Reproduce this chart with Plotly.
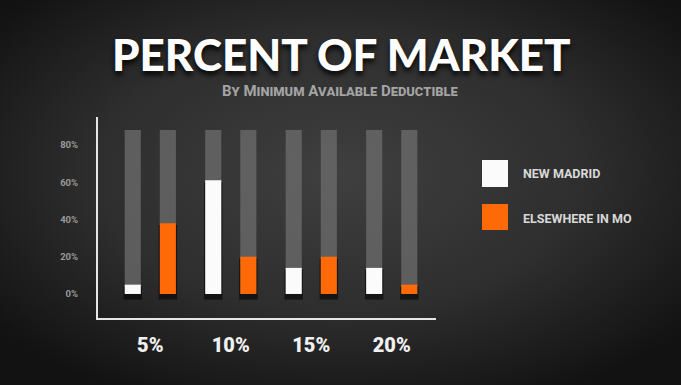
import plotly.graph_objects as go
import urllib.parse

# --- data -------------------------------------------------------------
deductibles = ["5%", "10%", "15%", "20%"]
new_madrid = [5, 61, 14, 14]
elsewhere_mo = [38, 20, 20, 5]
track_max = [88, 88, 88, 88]          # full-height grey track behind each bar
y_ticks = [0, 20, 40, 60, 80]
y_tick_text = ["0%", "20%", "40%", "60%", "80%"]

W, H = 681, 385
WHITE = "#fbfbfb"
ORANGE = "#ff6a08"
TRACK = "rgba(110,110,110,0.75)"

BAR_W = 0.2
OFFSETS = {"nm": -0.318, "mo": 0.118}

fig = go.Figure()

# grey tracks
for key in ("nm", "mo"):
    fig.add_trace(go.Bar(
        x=deductibles, y=track_max, width=BAR_W, offset=OFFSETS[key],
        marker=dict(color=TRACK, line=dict(width=0)),
        showlegend=False, hoverinfo="skip",
    ))

# soft drop shadows under the value bars
for key, vals in (("nm", new_madrid), ("mo", elsewhere_mo)):
    fig.add_trace(go.Bar(
        x=deductibles, y=[v + 2 for v in vals], base=-3, width=BAR_W + 0.03,
        offset=OFFSETS[key] - 0.015,
        marker=dict(color="rgba(0,0,0,0.55)", line=dict(width=0)),
        showlegend=False, hoverinfo="skip",
    ))

fig.add_trace(go.Bar(
    x=deductibles, y=new_madrid, width=BAR_W, offset=OFFSETS["nm"],
    marker=dict(color=WHITE, line=dict(width=0)), name="NEW MADRID",
))
fig.add_trace(go.Bar(
    x=deductibles, y=elsewhere_mo, width=BAR_W, offset=OFFSETS["mo"],
    marker=dict(color=ORANGE, line=dict(width=0)), name="ELSEWHERE IN MO",
))

# radial vignette background
svg = (
    "<svg xmlns='http://www.w3.org/2000/svg' width='681' height='385'>"
    "<defs><radialGradient id='g' cx='50%' cy='45%' r='65%'>"
    "<stop offset='0%' stop-color='#3f3f3f'/>"
    "<stop offset='55%' stop-color='#2e2e2e'/>"
    "<stop offset='100%' stop-color='#121212'/>"
    "</radialGradient></defs>"
    "<rect width='681' height='385' fill='url(#g)'/></svg>"
)
bg_uri = "data:image/svg+xml;charset=utf-8," + urllib.parse.quote(svg)


def px(x):
    return x / W


def py(y):
    return 1 - y / H


shapes = [
    dict(type="rect", xref="paper", yref="paper",
         x0=px(482), x1=px(508), y0=py(187), y1=py(160),
         fillcolor=WHITE, line=dict(width=0)),
    dict(type="rect", xref="paper", yref="paper",
         x0=px(482), x1=px(508), y0=py(230), y1=py(204),
         fillcolor=ORANGE, line=dict(width=0)),
]

legend_font = dict(family="Roboto", size=12.5, color="#d8d8d8", weight="bold")
annotations = [
    dict(text="PERCENT OF MARKET", xref="paper", yref="paper",
         x=px(341), y=py(54), xanchor="center", yanchor="middle",
         showarrow=False,
         font=dict(family="Lato", size=44, color="#ffffff", weight=900,
                   shadow="0px 4px 5px rgba(0,0,0,0.85)")),
    dict(text="By Minimum Available Deductible", xref="paper", yref="paper",
         x=px(340), y=py(91), xanchor="center", yanchor="middle",
         showarrow=False,
         font=dict(family="Roboto", size=15, color="#a4a4a4", weight="bold",
                   variant="small-caps")),
    dict(text="NEW MADRID", xref="paper", yref="paper",
         x=px(521), y=py(174), xanchor="left", yanchor="middle",
         showarrow=False, font=legend_font),
    dict(text="ELSEWHERE IN MO", xref="paper", yref="paper",
         x=px(521), y=py(218), xanchor="left", yanchor="middle",
         showarrow=False, font=legend_font),
]

fig.update_layout(
    width=W, height=H,
    margin=dict(l=0, r=0, t=0, b=0),
    paper_bgcolor="#242424",
    plot_bgcolor="rgba(0,0,0,0)",
    barmode="overlay",
    showlegend=False,
    images=[dict(source=bg_uri, xref="paper", yref="paper", x=0, y=1,
                 sizex=1, sizey=1, sizing="stretch", layer="below",
                 xanchor="left", yanchor="top")],
    shapes=shapes,
    annotations=annotations,
    xaxis=dict(
        domain=[px(98), px(436)],
        range=[-0.65, 3.55],
        showgrid=False, zeroline=False,
        showline=True, linecolor="#e6e6e6", linewidth=2,
        ticks="", ticklabelstandoff=8,
        tickfont=dict(family="Roboto", size=20, color="#f0f0f0", weight=900),
    ),
    yaxis=dict(
        domain=[py(318), py(117)],
        range=[-12.9, 95.0],
        showgrid=False, zeroline=False,
        showline=True, linecolor="#e6e6e6", linewidth=2,
        ticks="", tickvals=y_ticks, ticktext=y_tick_text,
        ticklabelstandoff=16,
        tickfont=dict(family="Roboto", size=9.5, color="#9a9a9a", weight="bold"),
    ),
)

fig.write_html("out.html")
